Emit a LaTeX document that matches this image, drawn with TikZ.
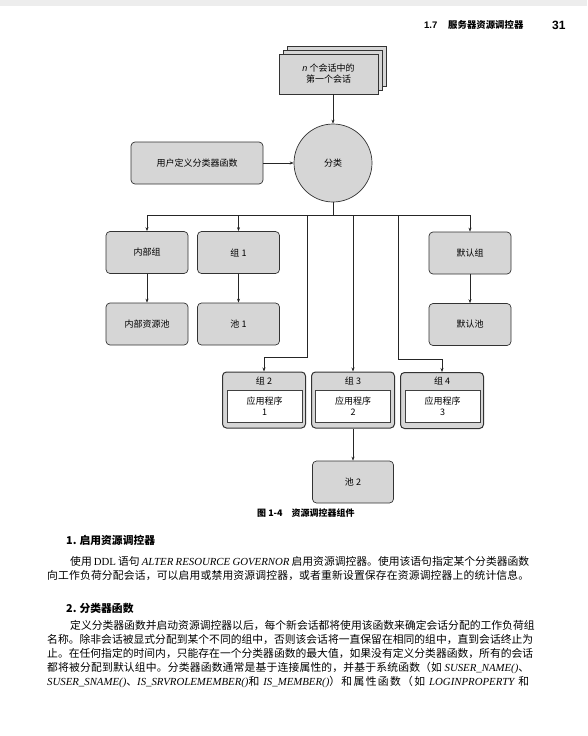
\documentclass[tikz,border=0pt]{standalone}
\usepackage{fontspec}
\setmainfont{Noto Sans CJK SC}
\newfontfamily\tms{Liberation Serif}
\newfontfamily\arl{Liberation Sans}
\usetikzlibrary{arrows.meta}
\XeTeXinterchartokenstate=1
\newXeTeXintercharclass\cjkcls
\count255="3000
\loop\XeTeXcharclass\count255=\cjkcls\ifnum\count255<"30FF\advance\count255 by 1\repeat
\count255="4E00
\loop\XeTeXcharclass\count255=\cjkcls\ifnum\count255<"9FFF\advance\count255 by 1\repeat
\count255="FF00
\loop\XeTeXcharclass\count255=\cjkcls\ifnum\count255<"FF5F\advance\count255 by 1\repeat
\XeTeXinterchartoks\cjkcls\cjkcls={\hskip0pt plus 1pt\relax}
\tikzset{
  gbox/.style={draw=black!80, line width=0.7pt, fill=black!16, rounded corners=4pt, inner sep=0pt, font=\fontsize{9}{11}\selectfont, align=center},
  docbox/.style={gbox, rounded corners=0pt, minimum width=99pt, minimum height=40pt},
  rbox/.style={gbox, minimum width=82pt, minimum height=42pt},
  obox/.style={gbox, line width=1pt, minimum width=83pt, minimum height=56pt},
  wbox/.style={draw=black!75, line width=0.8pt, fill=white, inner sep=0pt, minimum width=75pt, minimum height=32pt, font=\fontsize{9}{11}\selectfont, align=center},
  lbl/.style={inner sep=0pt, font=\fontsize{9}{11}\selectfont},
  arr/.style={draw=black!85, line width=0.6pt, -{Stealth[length=4pt,width=3pt]}},
  ln/.style={draw=black!85, line width=0.6pt},
  body/.style={anchor=west, inner sep=0pt, font=\fontsize{10.8}{12}\selectfont},
  head/.style={anchor=west, inner sep=0pt, font=\bfseries\fontsize{10.8}{12}\selectfont},
}
\begin{document}
\begin{tikzpicture}[x=1pt,y=-1pt]
\useasboundingbox (0,0) rectangle (587,736);
\fill[black!7] (0,0) rectangle (587,6);
% header
\node[anchor=west, inner sep=0pt, font=\arl\bfseries\fontsize{9.5}{10}\selectfont] (h1) at (424,25) {1.7};
\node[anchor=west, inner sep=0pt, font=\bfseries\fontsize{9.4}{10}\selectfont] (h2) at (448,25) {服务器资源调控器};
\node[anchor=west, inner sep=0pt, font=\arl\bfseries\fontsize{12}{13}\selectfont] (h3) at (552,25) {31};
% session stack
\node[docbox] (d3) at (336.5,66) {};
\node[docbox] (d2) at (332.5,70) {};
\node[docbox] (d1) at (328.5,74) {{\arl\itshape n} 个会话中的\\第一个会话};
% classifier
\node[gbox, circle, minimum size=78pt] (cls) at (333,163) {分类};
\node[gbox, minimum width=132pt, minimum height=42pt] (udf) at (197,163) {用户定义分类器函数};
\draw[arr] (d1.south -| cls) -- (cls.north);
\draw[arr] (udf.east) -- (cls.west);
% rows 1 and 2
\node[rbox] (int) at (147,252.5) {内部组};
\node[rbox] (g1) at (238.5,252.5) {组 1};
\node[rbox] (def) at (470,253) {默认组};
\node[rbox] (ipool) at (147,324) {内部资源池};
\node[rbox] (p1) at (238.5,324) {池 1};
\node[rbox] (dpool) at (470,324.5) {默认池};
% row 3
\node[obox] (g2) at (264,400) {};
\node[obox] (g3) at (353,400) {};
\node[obox] (g4) at (442,400.5) {};
\node[wbox] (a1) at (264.5,406) {应用程序\\1};
\node[wbox] (a2) at (353,406) {应用程序\\2};
\node[wbox] (a3) at (442.5,406) {应用程序\\3};
\node[lbl] (g2t) at (264,381) {组 2};
\node[lbl] (g3t) at (353,381) {组 3};
\node[lbl] (g4t) at (442,381) {组 4};
\node[rbox, minimum width=81pt] (p2) at (353,482) {池 2};
% connectors
\coordinate (bus) at (333,215);
\coordinate (k2) at (307,357);
\coordinate (k4) at (398,359);
\draw[ln] (cls.south) -- (bus);
\draw[arr] (bus) -| (int.north);
\draw[arr] (bus) -| (g1.north);
\draw[arr] (bus) -| (def.north);
\draw[arr] (bus) -| (g3.north);
\draw[arr] (bus) -| (k2) -| (g2.north);
\draw[arr] (bus) -| (k4) -| (g4.north);
\draw[arr] (int) -- (ipool);
\draw[arr] (g1) -- (p1);
\draw[arr] (def) -- (dpool);
\draw[arr] (g3.south) -- (p2.north);
% caption
\node[anchor=west, inner sep=0pt, font=\bfseries\fontsize{9}{10}\selectfont] (cap) at (257,513) {图 1-4\hspace{9pt}资源调控器组件};
% body text
\node[head] (s1) at (66,540) {1.\hspace{3pt}启用资源调控器};
\node[body] (l1) at (70,561) {\makebox[459pt][s]{使用 {\tms DDL} 语句 {\tms\itshape ALTER RESOURCE GOVERNOR} 启用资源调控器。使用该语句指定某个分类器函数}};
\node[body] (l2) at (47,575) {\makebox[482pt][s]{向工作负荷分配会话，可以启用或禁用资源调控器，或者重新设置保存在资源调控器上的统计信息。}};
\node[head] (s2) at (66,608) {2.\hspace{3pt}分类器函数};
\node[body] (m1) at (70,625) {\makebox[460pt][s]{定义分类器函数并启动资源调控器以后，每个新会话都将使用该函数来确定会话分配的工作负荷组}};
\node[body] (m2) at (47,639) {\makebox[483pt][s]{名称。除非会话被显式分配到某个不同的组中，否则该会话将一直保留在相同的组中，直到会话终止为}};
\node[body] (m3) at (47,653) {\makebox[483pt][s]{止。在任何指定的时间内，只能存在一个分类器函数的最大值，如果没有定义分类器函数，所有的会话}};
\node[body] (m4) at (47,668) {\makebox[482pt][s]{都将被分配到默认组中。分类器函数通常是基于连接属性的，并基于系统函数（如 {\tms\itshape SUSER\_NAME()}、}};
\node[body] (m5) at (47,682) {\makebox[482pt][s]{{\tms\itshape SUSER\_SNAME()}、{\tms\itshape IS\_SRVROLEMEMBER()}和 {\tms\itshape IS\_MEMBER()}）和属性函数（如 {\tms\itshape LOGINPROPERTY} 和}};
\end{tikzpicture}
\end{document}
